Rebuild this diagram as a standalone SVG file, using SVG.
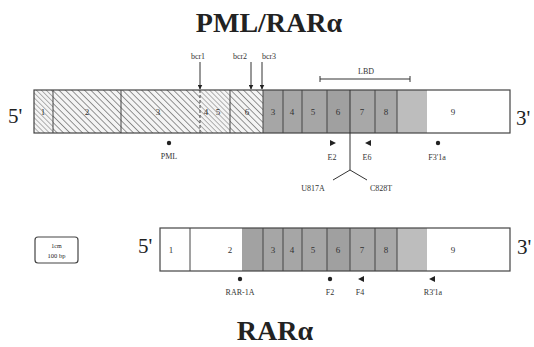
<svg xmlns="http://www.w3.org/2000/svg" width="534" height="347" viewBox="0 0 534 347">
<style>
  .t { font-family: "Liberation Serif", "Times New Roman", serif; fill: #222; }
  .title { font-size: 28px; font-weight: bold; text-anchor: middle; }
  .end { font-size: 21px; }
  .ex { font-size: 9px; text-anchor: middle; fill: #333; }
  .lab { font-size: 8px; text-anchor: middle; fill: #333; }
  .box { stroke: #444; stroke-width: 1.2; }
  .div { stroke: #444; stroke-width: 1; }
  .ln { stroke: #333; stroke-width: 1; fill: none; }
</style>
<defs>
  <pattern id="hatch" width="4.5" height="4.5" patternUnits="userSpaceOnUse" patternTransform="rotate(-45)">
    <rect width="4.5" height="4.5" fill="#f4f4f4"/>
    <line x1="0" y1="0" x2="0" y2="4.5" stroke="#7a7a7a" stroke-width="1.6"/>
  </pattern>
  <pattern id="hatch2" width="3.5" height="3.5" patternUnits="userSpaceOnUse" patternTransform="rotate(-45)">
    <rect width="3.5" height="3.5" fill="#f4f4f4"/>
    <line x1="0" y1="0" x2="0" y2="3.5" stroke="#8a8a8a" stroke-width="1.3"/>
  </pattern>
  <marker id="ah" viewBox="0 0 10 10" refX="9" refY="5" markerWidth="5" markerHeight="5" orient="auto">
    <path d="M0,0 L10,5 L0,10 z" fill="#222"/>
  </marker>
</defs>

<g id="title-pml">
  <text class="t title" x="269" y="32">PML/RARα</text>
</g>

<g id="pml-rara-bar">
  <rect x="34" y="90" width="19" height="43" fill="url(#hatch2)"/>
  <rect x="53" y="90" width="147" height="43" fill="url(#hatch)"/>
  <rect x="200" y="90" width="30" height="43" fill="url(#hatch2)"/>
  <rect x="230" y="90" width="33" height="43" fill="url(#hatch)"/>
  <rect x="263" y="90" width="64" height="43" fill="#a6a6a6"/>
  <rect x="327" y="90" width="23" height="43" fill="#a0a0a0"/>
  <rect x="350" y="90" width="47" height="43" fill="#a8a8a8"/>
  <rect x="397" y="90" width="30" height="43" fill="#bdbdbd"/>
  <rect x="427" y="90" width="83" height="43" fill="#fff"/>
  <rect class="box" x="34" y="90" width="476" height="43" fill="none"/>
  <line class="div" x1="53" y1="90" x2="53" y2="133"/>
  <line class="div" x1="121" y1="90" x2="121" y2="133"/>
  <line class="div" x1="200" y1="90" x2="200" y2="133" stroke-dasharray="3,2"/>
  <line class="div" x1="230" y1="90" x2="230" y2="133"/>
  <line class="div" x1="263" y1="90" x2="263" y2="133"/>
  <line class="div" x1="283" y1="90" x2="283" y2="133"/>
  <line class="div" x1="302" y1="90" x2="302" y2="133"/>
  <line class="div" x1="327" y1="90" x2="327" y2="133"/>
  <line class="div" x1="375" y1="90" x2="375" y2="133"/>
  <line class="div" x1="397" y1="90" x2="397" y2="133"/>
  <text class="t ex" x="43" y="115">1</text>
  <text class="t ex" x="87" y="115">2</text>
  <text class="t ex" x="158" y="115">3</text>
  <text class="t ex" x="206" y="115">4</text>
  <text class="t ex" x="218" y="115">5</text>
  <text class="t ex" x="247" y="115">6</text>
  <text class="t ex" x="273" y="115">3</text>
  <text class="t ex" x="292" y="115">4</text>
  <text class="t ex" x="313" y="115">5</text>
  <text class="t ex" x="338" y="115">6</text>
  <text class="t ex" x="362" y="115">7</text>
  <text class="t ex" x="386" y="115">8</text>
  <text class="t ex" x="453" y="115">9</text>
  <text class="t end" x="8" y="123">5'</text>
  <text class="t end" x="516" y="125">3'</text>
</g>

<g id="lbd">
  <line class="ln" x1="320" y1="79" x2="410" y2="79"/>
  <line class="ln" x1="320" y1="76" x2="320" y2="82"/>
  <line class="ln" x1="410" y1="76" x2="410" y2="82"/>
  <text class="t lab" x="366" y="74">LBD</text>
</g>

<g id="breakpoints">
  <text class="t lab" x="198" y="59">bcr1</text>
  <text class="t lab" x="240" y="59">bcr2</text>
  <text class="t lab" x="269" y="59">bcr3</text>
</g>

<g id="connectors">
  <line class="ln" x1="200" y1="62" x2="200" y2="89" marker-end="url(#ah)"/>
  <line class="ln" x1="251" y1="62" x2="251" y2="89" marker-end="url(#ah)"/>
  <line class="ln" x1="262" y1="62" x2="262" y2="89" marker-end="url(#ah)"/>
  <line class="ln" x1="350" y1="90" x2="350" y2="170"/>
  <line class="ln" x1="350" y1="170" x2="333" y2="180"/>
  <line class="ln" x1="350" y1="170" x2="367" y2="180"/>
</g>

<g id="pml-primers">
  <circle cx="169" cy="143" r="2.2" fill="#222"/>
  <text class="t lab" x="169" y="159">PML</text>
  <path d="M330,140 L336,143 L330,146 z" fill="#222"/>
  <text class="t lab" x="332" y="160">E2</text>
  <path d="M371,140 L365,143 L371,146 z" fill="#222"/>
  <text class="t lab" x="367" y="160">E6</text>
  <circle cx="438" cy="143" r="2.2" fill="#222"/>
  <text class="t lab" x="437" y="160">F3'1a</text>
</g>

<g id="mutations">
  <text class="t lab" x="313" y="191">U817A</text>
  <text class="t lab" x="381" y="191">C828T</text>
</g>

<g id="scale">
  <rect x="35" y="237" width="43" height="26" rx="3" fill="#fff" stroke="#444" stroke-width="1.2"/>
  <text class="t" x="56.5" y="248" font-size="6" text-anchor="middle">1cm</text>
  <text class="t" x="56.5" y="258" font-size="6.5" text-anchor="middle">100 bp</text>
</g>

<g id="rara-bar">
  <rect x="160" y="228" width="82" height="43" fill="#fff"/>
  <rect x="242" y="228" width="21" height="43" fill="#a2a2a2"/>
  <rect x="263" y="228" width="64" height="43" fill="#a6a6a6"/>
  <rect x="327" y="228" width="23" height="43" fill="#a0a0a0"/>
  <rect x="350" y="228" width="47" height="43" fill="#a8a8a8"/>
  <rect x="397" y="228" width="30" height="43" fill="#bdbdbd"/>
  <rect x="427" y="228" width="83" height="43" fill="#fff"/>
  <rect class="box" x="160" y="228" width="350" height="43" fill="none"/>
  <line class="div" x1="190" y1="228" x2="190" y2="271"/>
  <line class="div" x1="263" y1="228" x2="263" y2="271"/>
  <line class="div" x1="283" y1="228" x2="283" y2="271"/>
  <line class="div" x1="302" y1="228" x2="302" y2="271"/>
  <line class="div" x1="327" y1="228" x2="327" y2="271"/>
  <line class="div" x1="350" y1="228" x2="350" y2="271"/>
  <line class="div" x1="375" y1="228" x2="375" y2="271"/>
  <line class="div" x1="397" y1="228" x2="397" y2="271"/>
  <text class="t ex" x="171" y="253">1</text>
  <text class="t ex" x="230" y="253">2</text>
  <text class="t ex" x="273" y="253">3</text>
  <text class="t ex" x="292" y="253">4</text>
  <text class="t ex" x="313" y="253">5</text>
  <text class="t ex" x="338" y="253">6</text>
  <text class="t ex" x="362" y="253">7</text>
  <text class="t ex" x="386" y="253">8</text>
  <text class="t ex" x="453" y="253">9</text>
  <text class="t end" x="138" y="253">5'</text>
  <text class="t end" x="517" y="254">3'</text>
</g>

<g id="rara-primers">
  <circle cx="240" cy="279" r="2.2" fill="#222"/>
  <text class="t lab" x="240" y="295">RAR-1A</text>
  <circle cx="330" cy="279" r="2.2" fill="#222"/>
  <text class="t lab" x="330" y="295">F2</text>
  <path d="M364,276 L358,279 L364,282 z" fill="#222"/>
  <text class="t lab" x="360" y="295">F4</text>
  <path d="M435,276 L429,279 L435,282 z" fill="#222"/>
  <text class="t lab" x="433" y="295">R3'1a</text>
</g>

<g id="title-rara">
  <text class="t title" x="275" y="340">RARα</text>
</g>
</svg>
